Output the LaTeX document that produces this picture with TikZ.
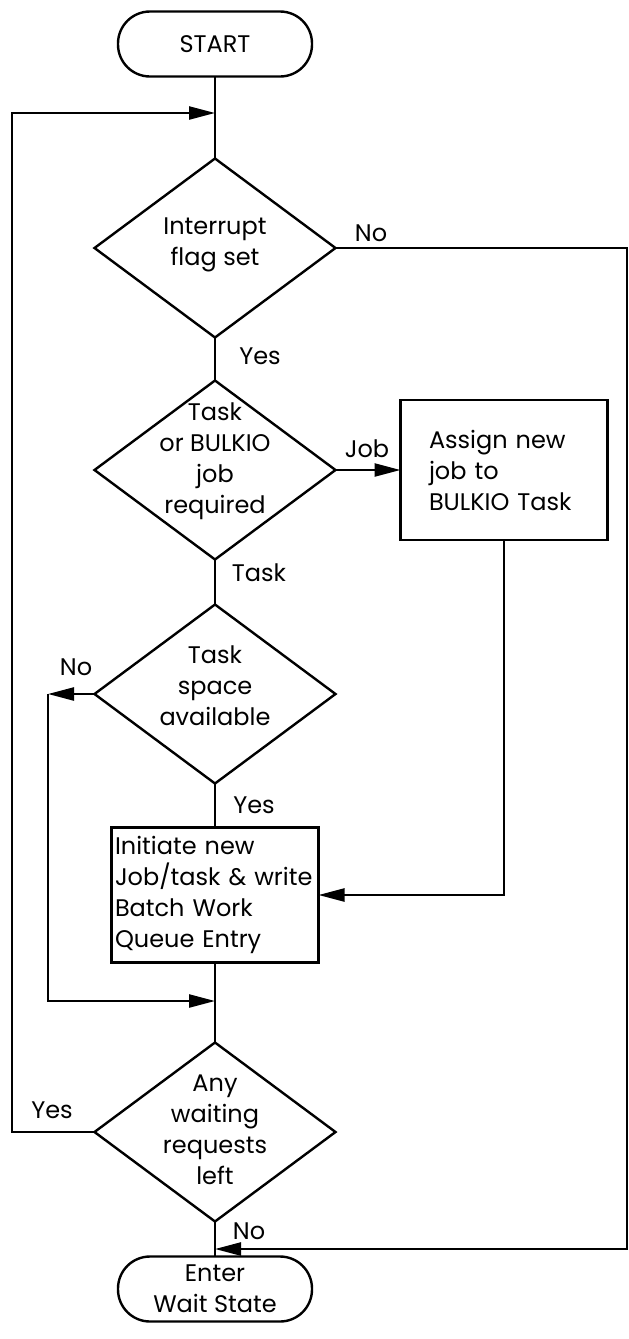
\documentclass[tikz,border=0pt]{standalone}
\usepackage{fontspec}
\setmainfont{Poppins}
\usetikzlibrary{shapes.geometric,arrows.meta}
\begin{document}
\begin{tikzpicture}[x=1pt,y=-1pt,line width=2.4pt]
\tikzstyle{every node}+=[font=\fontsize{24}{31}\selectfont,outer sep=0pt]
\tikzstyle{term}=[draw,rounded corners=32pt,minimum width=194pt,minimum height=65pt,align=center]
\tikzstyle{decision}=[draw,diamond,minimum width=241pt,minimum height=179pt,inner sep=0pt]
\tikzstyle{procbox}=[draw,minimum width=207pt,align=left,inner xsep=0pt]
\tikzstyle{arr}=[-{Triangle[length=26pt,width=13pt]}]
\tikzstyle{lbl}=[inner sep=0pt]
\useasboundingbox (0,0) rectangle (629,1339);
\node [term] (start) at (215,44) {START};
\node [decision] (d1) at (215,248) {};
\node [align=center] (d1t) at (215,245) {Interrupt\\flag set};
\node [decision] (d2) at (215,470) {};
\node [align=center] (d2t) at (215,461) {Task\\or BULKIO\\job\\required};
\node [procbox,text width=150pt,minimum height=140pt] (assign) at (504,470) {Assign new\\job to\\BULKIO Task};
\node [decision] (d3) at (215,694) {};
\node [align=center] (d3t) at (215,686) {Task\\space\\available};
\node [procbox,text width=200pt,minimum height=135pt] (init) at (215,895) {Initiate new\\Job/task \& write\\Batch Work\\Queue Entry};
\node [decision] (d4) at (215,1132) {};
\node [align=center] (d4t) at (215,1130) {Any\\waiting\\requests\\left};
\node [term] (wait) at (215,1289) {Enter\\Wait State};
\coordinate (entry) at (215,113);
\coordinate (leftrail) at (12,113);
\coordinate (rightrail) at (627,1249);
\coordinate (exit) at (215,1249);
\coordinate (nocorner) at (48,694);
\coordinate (merge) at (215,1001);
\draw (start.south) -- (d1.north);
\draw (d1.south) -- (d2.north);
\draw (d2.south) -- (d3.north);
\draw (d3.south) -- (init.north);
\draw (init.south) -- (d4.north);
\draw (d4.south) -- (wait.north);
\draw [arr] (d2.east) -- (assign.west);
\draw [arr] (assign.south) |- (init.east);
\draw [arr] (d3.west) -- (nocorner);
\draw [arr] (nocorner) |- (merge);
\draw [arr] (d4.west) -| (leftrail) -- (entry);
\draw [arr] (d1.east) -| (rightrail) -- (exit);
\node [lbl] (no1) at (371,233) {No};
\node [lbl] (yes1) at (260,356) {Yes};
\node [lbl] (job) at (367,449) {Job};
\node [lbl] (task) at (259,573) {Task};
\node [lbl] (no3) at (76,667) {No};
\node [lbl] (yes3) at (254,805) {Yes};
\node [lbl] (yes4) at (52,1110) {Yes};
\node [lbl] (no4) at (249,1231) {No};
\end{tikzpicture}
\end{document}
